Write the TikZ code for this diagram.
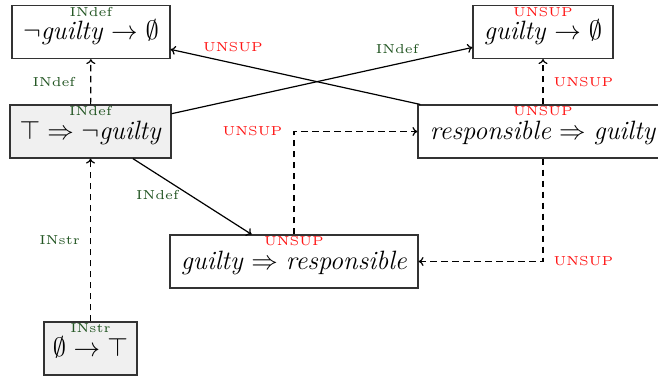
\documentclass[tikz,border=0pt]{standalone}
\usepackage{fix-cm}
\usepackage{graphicx}
\usetikzlibrary{arrows.meta}
\definecolor{lblgreen}{RGB}{34,85,34}
\definecolor{lblred}{RGB}{255,20,20}
\newcommand{\lb}[1]{\scalebox{2.6}{\tiny #1}}
\tikzset{
  box/.style={draw=black!80, line width=1.1pt, minimum height=53pt, inner sep=0pt,
    font=\fontsize{26.5}{30}\selectfont, text height=19.5pt, text depth=4pt},
  graybox/.style={box, fill=black!6},
  grn/.style={text=lblgreen, inner sep=1pt},
  rd/.style={text=lblred, inner sep=1pt},
  toplbl/.style={anchor=north, yshift=-1pt, inner sep=1pt},
  solidedge/.style={line width=1.2pt, -{To[length=5pt,width=9pt]}},
  dashedge/.style={line width=1.2pt, dash pattern=on 6.5pt off 4.5pt, -{To[length=5pt,width=9pt]}},
}
\begin{document}
\begin{tikzpicture}[x=1pt,y=-1pt]
\useasboundingbox (0,0) rectangle (658,378);
\node[box, minimum width=158pt, label={[toplbl, grn]north:\lb{INdef}}] (A) at (91,32) {$\neg$\textit{guilty} $\rightarrow$ $\emptyset$};
\node[graybox, minimum width=161pt, label={[toplbl, grn]north:\lb{INdef}}] (B) at (90.5,131.5) {$\top\Rightarrow\neg$\textit{guilty}};
\node[box, minimum width=140pt, label={[toplbl, rd]north:\lb{UNSUP}}] (C) at (543,32) {\textit{guilty} $\rightarrow$ $\emptyset$};
\node[box, minimum width=250pt, label={[toplbl, rd]north:\lb{UNSUP}}] (D) at (543,131.5) {\textit{responsible} $\Rightarrow$ \textit{guilty}};
\node[box, minimum width=248pt, label={[toplbl, rd]north:\lb{UNSUP}}] (E) at (294,261.5) {\textit{guilty} $\Rightarrow$ \textit{responsible}};
\node[graybox, minimum width=93pt, label={[toplbl, grn]north:\lb{INstr}}] (F) at (90.5,348.5) {$\emptyset\rightarrow\top$};

\draw[dashedge] (B) -- (A) node[midway, left=14pt, grn] {\lb{INdef}};
\draw[dashedge] (F) -- (B) node[midway, left=9pt, grn] {\lb{INstr}};
\draw[solidedge] (B) -- (C) node[pos=0.75, above=9pt, grn] {\lb{INdef}};
\draw[solidedge] (D) -- (A) node[pos=0.75, above=10pt, rd] {\lb{UNSUP}};
\draw[solidedge] (B) -- (E) node[pos=0.4, anchor=north east, grn] {\lb{INdef}};
\draw[dashedge] (E.north) |- (D.west) node[pos=0.5, left=10pt, rd] {\lb{UNSUP}};
\draw[dashedge] (D.north) -- (C.south) node[midway, right=9pt, rd] {\lb{UNSUP}};
\draw[dashedge] (D.south) |- (E.east) node[pos=0.5, right=9pt, rd] {\lb{UNSUP}};
\end{tikzpicture}
\end{document}
